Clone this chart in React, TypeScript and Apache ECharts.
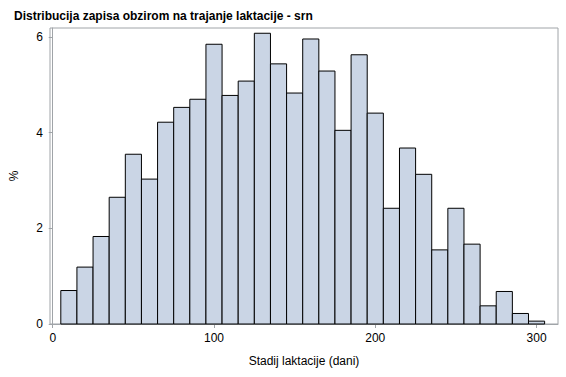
import React, { useEffect, useRef } from "react";
import * as echarts from "echarts";

const titleText = "Distribucija zapisa obzirom na trajanje laktacije - srn";
const xAxisName = "Stadij laktacije (dani)";
const yAxisName = "%";
const binWidth = 10;
const binCenters = [10, 20, 30, 40, 50, 60, 70, 80, 90, 100, 110, 120, 130, 140, 150, 160, 170, 180, 190, 200, 210, 220, 230, 240, 250, 260, 270, 280, 290, 300];
const percents = [0.70, 1.19, 1.83, 2.65, 3.55, 3.03, 4.22, 4.53, 4.70, 5.85, 4.78, 5.08, 6.08, 5.44, 4.83, 5.96, 5.29, 4.05, 5.63, 4.41, 2.42, 3.68, 3.13, 1.55, 2.42, 1.67, 0.38, 0.68, 0.22, 0.06];
const xTicks = [0, 100, 200, 300];
const yTicks = [0, 2, 4, 6];

const FONT = "'Liberation Sans', Arial, sans-serif";

export default function App() {
  const ref = useRef<HTMLDivElement>(null);
  useEffect(() => {
    if (!ref.current) return;
    const chart = echarts.init(ref.current, null, { renderer: "svg" });
    const data = binCenters.map((c, i) => [c, percents[i]]);
    chart.setOption({
      animation: false,
      title: {
        text: titleText,
        left: 9,
        top: 5,
        textStyle: { fontFamily: FONT, fontSize: 12, fontWeight: "bold", color: "#000" },
      },
      grid: {
        left: 50,
        right: 8,
        top: 28,
        bottom: 53,
        show: true,
        borderColor: "#a0a4a8",
        borderWidth: 1,
        backgroundColor: "transparent",
      },
      xAxis: {
        type: "value",
        min: -1.7,
        max: 313.3,
        name: xAxisName,
        nameLocation: "middle",
        nameGap: 31,
        nameTextStyle: { fontFamily: FONT, fontSize: 12, color: "#000" },
        axisLine: { show: true, lineStyle: { color: "#a0a4a8" } },
        axisTick: { show: true, length: 4, customValues: xTicks, lineStyle: { color: "#a0a4a8" } },
        axisLabel: { customValues: xTicks, fontFamily: FONT, fontSize: 12, color: "#000", margin: 8 },
        splitLine: { show: false },
      },
      yAxis: {
        type: "value",
        min: 0,
        max: 6.19,
        name: yAxisName,
        nameLocation: "middle",
        nameGap: 30,
        nameRotate: 90,
        nameTextStyle: { fontFamily: FONT, fontSize: 12, color: "#000" },
        axisLine: { show: true, lineStyle: { color: "#a0a4a8" } },
        axisTick: { show: true, length: 4, customValues: yTicks, lineStyle: { color: "#a0a4a8" } },
        axisLabel: { customValues: yTicks, fontFamily: FONT, fontSize: 12, color: "#000", margin: 7 },
        splitLine: { show: false },
      },
      series: [
        {
          type: "custom",
          data,
          encode: { x: 0, y: 1 },
          renderItem: (params: any, api: any) => {
            const x = api.value(0);
            const y = api.value(1);
            const p0 = api.coord([x - binWidth / 2, y]);
            const p1 = api.coord([x + binWidth / 2, 0]);
            return {
              type: "rect",
              shape: { x: p0[0], y: p0[1], width: p1[0] - p0[0], height: p1[1] - p0[1] },
              style: { fill: "#cad5e5", stroke: "#000", lineWidth: 1 },
            };
          },
        },
      ],
    });
    return () => chart.dispose();
  }, []);
  return (
    <div
      ref={ref}
      style={{ position: "fixed", left: 0, top: 0, width: 566, height: 377, background: "#fff" }}
    />
  );
}
